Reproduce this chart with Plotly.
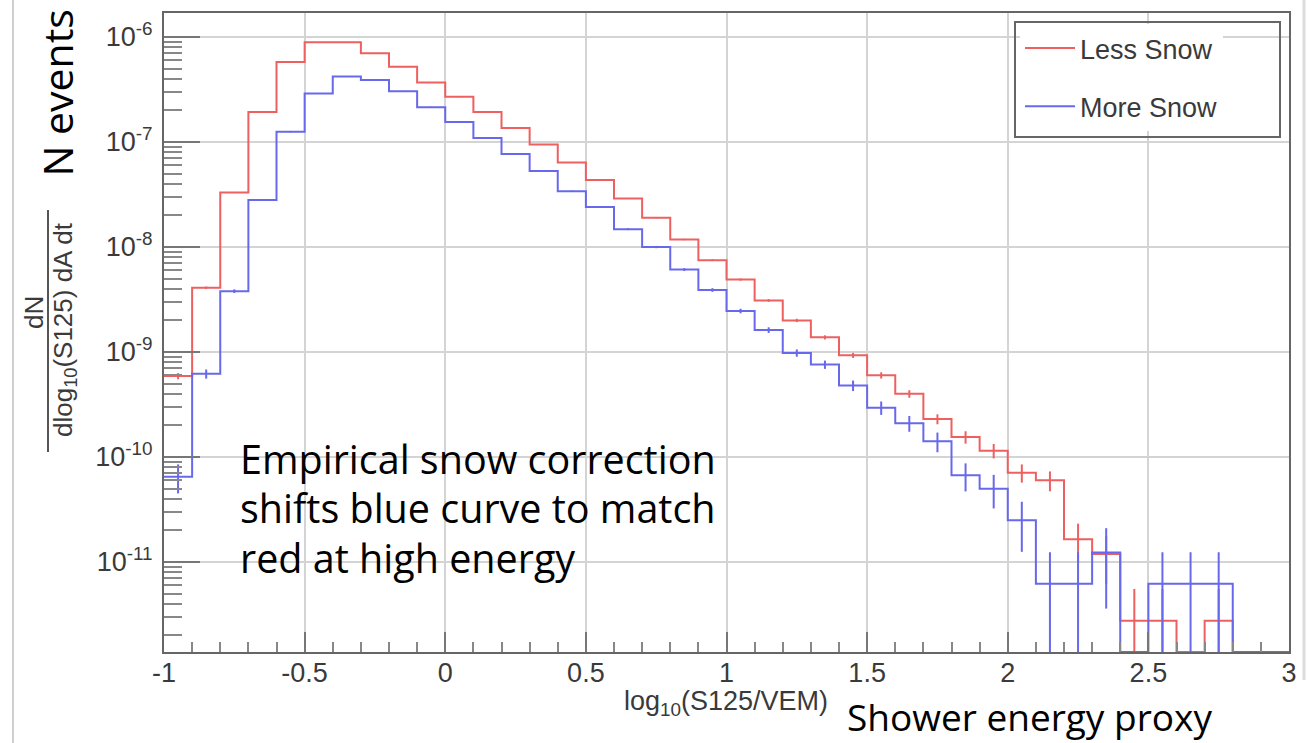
import plotly.graph_objects as go

# ---------------- data ----------------
bin_edges = [round(-1.0 + 0.1 * i, 1) for i in range(41)]

less_snow = [5.9e-10, 4.1e-9, 3.3e-8, 1.93e-7, 5.8e-7, 8.9e-7, 8.9e-7, 7.0e-7, 5.2e-7, 3.7e-7,
             2.7e-7, 1.93e-7, 1.36e-7, 9.5e-8, 6.4e-8, 4.35e-8, 2.9e-8, 1.9e-8, 1.18e-8, 7.5e-9,
             4.9e-9, 3.1e-9, 2.0e-9, 1.38e-9, 9.3e-10, 6.0e-10, 4.0e-10, 2.3e-10, 1.55e-10, 1.15e-10,
             7.1e-11, 6.0e-11, 1.65e-11, 1.19e-11, 2.76e-12, 2.76e-12, 0, 2.76e-12, 0, 0]
less_snow_err = [4.0e-11, 1.06e-10, 3.0e-10, 7.3e-10, 1.27e-9, 1.57e-9, 1.57e-9, 1.39e-9, 1.2e-9, 1.01e-9,
                 8.6e-10, 7.3e-10, 6.1e-10, 5.1e-10, 4.2e-10, 3.5e-10, 2.8e-10, 2.3e-10, 1.8e-10, 1.44e-10,
                 1.16e-10, 9.3e-11, 7.4e-11, 6.2e-11, 5.1e-11, 4.1e-11, 3.3e-11, 2.5e-11, 2.1e-11, 1.8e-11,
                 1.4e-11, 1.29e-11, 6.7e-12, 5.7e-12, 2.76e-12, 2.76e-12, 0, 2.76e-12, 0, 0]

more_snow = [6.5e-11, 6.2e-10, 3.8e-9, 2.8e-8, 1.25e-7, 2.9e-7, 4.2e-7, 3.9e-7, 3.05e-7, 2.15e-7,
             1.55e-7, 1.09e-7, 7.7e-8, 5.3e-8, 3.4e-8, 2.4e-8, 1.48e-8, 1.0e-8, 6.1e-9, 3.9e-9,
             2.46e-9, 1.62e-9, 9.8e-10, 7.6e-10, 4.8e-10, 2.95e-10, 2.1e-10, 1.41e-10, 6.7e-11, 5.0e-11,
             2.5e-11, 6.2e-12, 6.2e-12, 1.23e-11, 0, 6.2e-12, 6.2e-12, 6.2e-12, 0, 0]
more_snow_err = [2.0e-11, 6.2e-11, 1.54e-10, 4.2e-10, 8.8e-10, 1.34e-9, 1.61e-9, 1.56e-9, 1.37e-9, 1.15e-9,
                 9.8e-10, 8.2e-10, 6.9e-10, 5.7e-10, 4.6e-10, 3.9e-10, 3.0e-10, 2.5e-10, 1.94e-10, 1.56e-10,
                 1.23e-10, 1.0e-10, 7.8e-11, 6.9e-11, 5.5e-11, 4.3e-11, 3.6e-11, 3.0e-11, 2.0e-11, 1.76e-11,
                 1.25e-11, 6.2e-12, 6.2e-12, 8.7e-12, 0, 6.2e-12, 6.2e-12, 6.2e-12, 0, 0]

series_names = ["Less Snow", "More Snow"]

x_tickvals = [-1, -0.5, 0, 0.5, 1, 1.5, 2, 2.5, 3]
x_ticktext = ["-1", "-0.5", "0", "0.5", "1", "1.5", "2", "2.5", "3"]
y_tickvals = [1e-11, 1e-10, 1e-9, 1e-8, 1e-7, 1e-6]
y_ticktext = ["10<sup>-11</sup>", "10<sup>-10</sup>", "10<sup>-9</sup>", "10<sup>-8</sup>",
              "10<sup>-7</sup>", "10<sup>-6</sup>"]

note_lines = ["Empirical snow correction", "shifts blue curve to match", "red at high energy"]

# ---------------- layout helpers ----------------
W, H = 1313, 743
L, R, T, B = 164, 24, 13, 91
Y_LOG_RANGE = [-11.857, -5.771]
Y_FLOOR = 10 ** Y_LOG_RANGE[0]


def px(x):
    return (x - L) / (W - L - R)


def py(y):
    return (H - B - y) / (H - T - B)


RED = "rgb(238,96,96)"
BLUE = "rgb(104,104,236)"

fig = go.Figure()


def add_hist(values, errors, color, name, group):
    xs = bin_edges[:]
    ys = [v if v > 0 else Y_FLOOR for v in values] + [values[-1] if values[-1] > 0 else Y_FLOOR]
    fig.add_trace(go.Scatter(x=xs, y=ys, mode="lines", line=dict(color=color, width=2, shape="hv"),
                             name=name, legendgroup=group, hoverinfo="skip"))
    centers, vals, eplus, eminus = [], [], [], []
    for i, v in enumerate(values):
        if v > 0:
            centers.append((bin_edges[i] + bin_edges[i + 1]) / 2)
            vals.append(v)
            eplus.append(errors[i])
            eminus.append(min(errors[i], v * 0.99999))
    fig.add_trace(go.Scatter(x=centers, y=vals, mode="markers", marker=dict(size=1, color=color),
                             error_y=dict(type="data", array=eplus, arrayminus=eminus, symmetric=False,
                                          color=color, thickness=2, width=0),
                             showlegend=False, legendgroup=group, hoverinfo="skip"))


add_hist(less_snow, less_snow_err, RED, series_names[0], "a")
add_hist(more_snow, more_snow_err, BLUE, series_names[1], "b")

AX_FONT = dict(family="Liberation Sans, Arial, sans-serif", size=27, color="#3a3a3a")

fig.update_xaxes(range=[-1, 3], tickvals=x_tickvals, ticktext=x_ticktext, ticks="inside", ticklen=20,
                 tickwidth=2, tickcolor="#777", showgrid=True, gridcolor="#d4d4d4", gridwidth=2,
                 showline=True, linecolor="#666", linewidth=2, mirror=True, zeroline=False,
                 tickfont=AX_FONT, ticklabelstandoff=-4,
                 minor=dict(dtick=0.1, tick0=0, ticks="inside", ticklen=10, tickwidth=2,
                            tickcolor="#888", showgrid=False))
fig.update_yaxes(type="log", range=Y_LOG_RANGE, tickvals=y_tickvals, ticktext=y_ticktext,
                 ticks="inside", ticklen=36, tickwidth=2, tickcolor="#777", showgrid=True,
                 gridcolor="#d4d4d4", gridwidth=2, showline=True, linecolor="#666", linewidth=2,
                 mirror=True, zeroline=False, tickfont=AX_FONT, ticklabelstandoff=4,
                 minor=dict(dtick="D1", ticks="inside", ticklen=18, tickwidth=2, tickcolor="#888",
                            showgrid=False))

TXT_FONT = "Open Sans, Noto Sans, sans-serif"
LAB_FONT = dict(family="Liberation Sans, Arial, sans-serif", size=26, color="#3a3a3a")
P = dict(xref="paper", yref="paper", showarrow=False)
note_centers = [459, 508, 558]
annotations = [
    dict(x=px(238), y=py(cy), xanchor="left", yanchor="middle", align="left",
         text=line, font=dict(family=TXT_FONT, size=39.5, color="black"), **P)
    for line, cy in zip(note_lines, note_centers)
] + [
    dict(x=px(845), y=py(716), xanchor="left", yanchor="middle",
         text="Shower energy proxy", font=dict(family=TXT_FONT, size=37, color="black"), **P),
    dict(x=px(56), y=py(8), xanchor="center", yanchor="top", textangle=-90,
         text="N events", font=dict(family=TXT_FONT, size=41, color="black"), **P),
    dict(x=px(726), y=py(703), xanchor="center", yanchor="middle",
         text="log<sub>10</sub>(S125/VEM)", font=AX_FONT, **P),
    dict(x=px(34), y=py(313), xanchor="center", yanchor="middle", textangle=-90,
         text="dN", font=LAB_FONT, **P),
    dict(x=px(64), y=py(330), xanchor="center", yanchor="middle", textangle=-90,
         text="dlog<sub>10</sub>(S125) dA dt", font=LAB_FONT, **P),
]

shapes = [
    dict(type="line", xref="paper", yref="paper", x0=px(48), x1=px(48), y0=py(210), y1=py(452),
         line=dict(color="#555", width=2)),
    dict(type="line", xref="paper", yref="paper", x0=px(13), x1=px(13), y0=py(0), y1=py(743),
         line=dict(color="#cfcfcf", width=2)),
    dict(type="line", xref="paper", yref="paper", x0=px(1304), x1=px(1304), y0=py(0), y1=py(680),
         line=dict(color="#dcdcdc", width=3)),
    dict(type="rect", xref="paper", yref="paper", x0=px(1015), x1=px(1280), y0=py(22), y1=py(137),
         line=dict(color="#666", width=2), fillcolor="rgba(0,0,0,0)"),
]

fig.update_layout(
    width=W, height=H, margin=dict(l=L, r=R, t=T, b=B, autoexpand=False),
    paper_bgcolor="white", plot_bgcolor="white",
    showlegend=True,
    legend=dict(x=px(1020), y=py(24), xanchor="left", yanchor="top", bgcolor="white",
                borderwidth=0, traceorder="grouped", tracegroupgap=20, itemwidth=50,
                font=dict(family="Liberation Sans, Arial, sans-serif", size=27, color="#3a3a3a")),
    annotations=annotations, shapes=shapes,
)

fig.write_html("out.html")
